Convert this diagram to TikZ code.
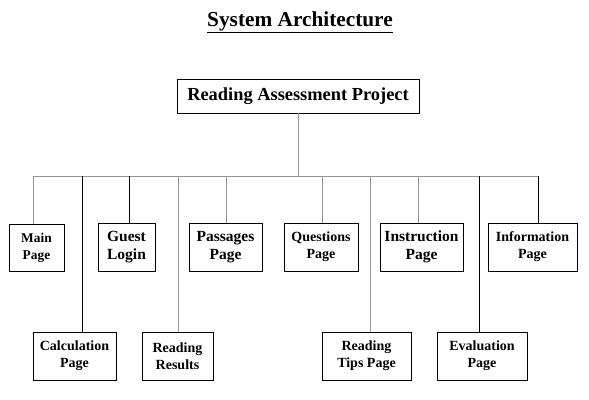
\documentclass[tikz,border=0pt]{standalone}
\usepackage{fontspec}
\setmainfont{Liberation Serif}
\begin{document}
\begin{tikzpicture}[x=1pt,y=-1pt,
  box/.style={draw=black, line width=0.9pt, fill=white, inner sep=0pt, align=center},
  fa/.style={font=\bfseries\fontsize{14}{17}\selectfont},
  fb/.style={font=\bfseries\fontsize{15.5}{18}\selectfont},
  gl/.style={draw=black!42, line width=0.9pt},
  bl/.style={draw=black, line width=0.9pt}]
\useasboundingbox (0,0) rectangle (589,399);
% title
\node[font=\bfseries\fontsize{21.3}{24}\selectfont, anchor=base, inner sep=0pt] (title) at (300,26) {\underline{System Architecture}};
% root
\node[box, minimum width=242pt, minimum height=34pt, font=\bfseries\fontsize{18.4}{22}\selectfont] (root) at (298,96) {Reading Assessment Project};
% top row
\node[box, fa, minimum width=55pt, minimum height=47pt, font=\bfseries\fontsize{13.4}{17}\selectfont] (main) at (36.5,247.5) {Main\\Page};
\node[box, fb, minimum width=57pt, minimum height=48pt] (guest) at (126.5,247) {Guest\\Login};
\node[box, fb, minimum width=73pt, minimum height=48pt] (pass) at (225.5,247) {Passages\\Page};
\node[box, fa, minimum width=74pt, minimum height=48pt] (ques) at (321,247) {Questions\\Page};
\node[box, fb, minimum width=83pt, minimum height=48pt] (instr) at (421.5,247) {Instruction\\Page};
\node[box, fa, minimum width=89pt, minimum height=48pt] (info) at (532.5,247) {Information\\Page};
% bottom row
\node[box, fa, minimum width=83pt, minimum height=48pt] (calc) at (74.5,356) {Calculation\\Page};
\node[box, fa, minimum width=71pt, minimum height=48pt] (res) at (177.5,356) {Reading\\Results};
\node[box, fa, minimum width=89pt, minimum height=48pt] (tips) at (366.5,356) {Reading\\Tips Page};
\node[box, fa, minimum width=90pt, minimum height=48pt] (eval) at (482,356) {Evaluation\\Page};
% bus
\coordinate (d1) at (33,176);
\coordinate (d2) at (82,176);
\coordinate (d3) at (129,176);
\coordinate (d4) at (178,176);
\coordinate (d5) at (226,176);
\coordinate (d6) at (322,176);
\coordinate (d7) at (370,176);
\coordinate (d8) at (418,176);
\coordinate (d9) at (479,176);
\coordinate (d10) at (538,176);
\draw[gl] (root.south) -- (root.south |- d1);
\draw[gl] (d1) -- (d10);
\draw[gl] (d1) -- (d1 |- main.north);
\draw[bl] (d2) -- (d2 |- calc.north);
\draw[bl] (d3) -- (d3 |- guest.north);
\draw[gl] (d4) -- (d4 |- res.north);
\draw[gl] (d5) -- (d5 |- pass.north);
\draw[gl] (d6) -- (d6 |- ques.north);
\draw[gl] (d7) -- (d7 |- tips.north);
\draw[gl] (d8) -- (d8 |- instr.north);
\draw[bl] (d9) -- (d9 |- eval.north);
\draw[bl] (d10) -- (d10 |- info.north);
\end{tikzpicture}
\end{document}
